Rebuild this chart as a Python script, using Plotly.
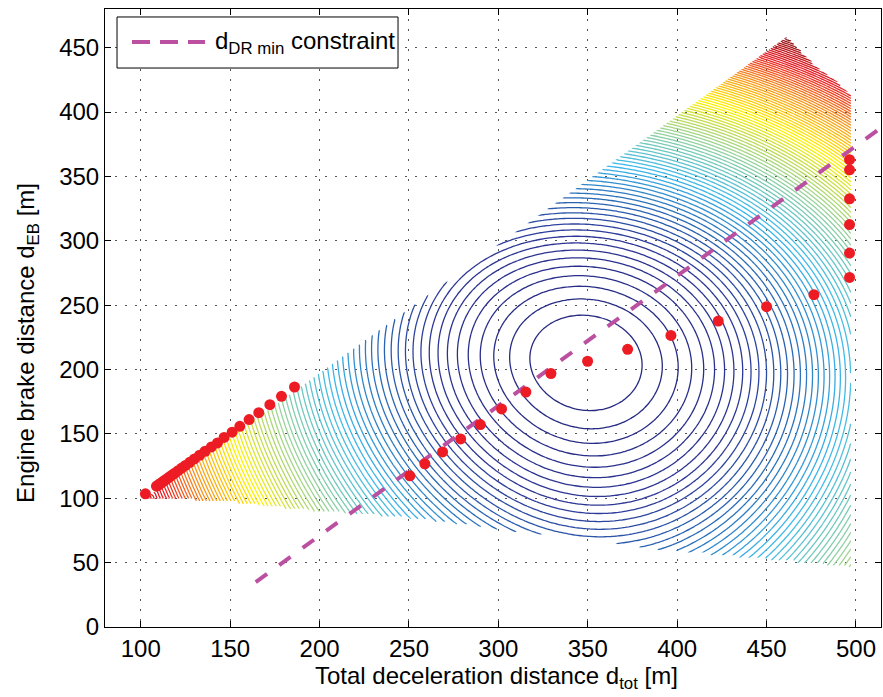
import numpy as np
import plotly.graph_objects as go

# ---------------- values ----------------
x_ticks = [100, 150, 200, 250, 300, 350, 400, 450, 500]
y_ticks = [0, 50, 100, 150, 200, 250, 300, 350, 400, 450]

# cost surface whose level rings are drawn (centre and shape read from the rings)
cost_center_dtot = 349.0
cost_center_deb = 206.0
cost_coef_xx = 1.0
cost_coef_yy = 0.72
cost_coef_xy = 0.12
cost_coef_yyy = 9.0e-4
level_first = 981.0
level_step = 833.0

# feasible region where the surface is defined
region_dtot_min = 103.0
region_dtot_max = 497.0
region_diag_offset = 1.5          # d_EB <= d_tot - offset
region_top_x = [462.0, 476.0, 485.0, 491.0, 497.0]
region_top_y = [458.5, 438.6, 429.6, 422.0, 414.0]
region_low_x = [103.0, 150.0, 190.0, 250.0, 300.0, 350.0, 400.0, 450.0, 497.0]
region_low_y = [100.0, 96.5, 90.5, 84.0, 75.0, 67.0, 58.0, 52.0, 46.0]

# optimal points (red dots)
opt_dtot = [102.6, 108.8, 109.5, 110.3, 111.3, 112.3, 113.4, 114.6, 116.0, 117.5,
            119.1, 120.9, 122.9, 125.0, 127.4, 130.0, 132.9, 136.0, 139.5, 142.9,
            146.6, 151.1, 155.4, 160.6, 166.0, 172.2, 178.7, 186.0,
            250.5, 258.9, 268.8, 278.9, 289.9, 301.8, 315.4, 329.4, 349.9, 372.3,
            396.5, 423.0, 450.0, 476.5, 496.4, 496.4, 496.4, 496.4, 496.4, 496.4]
opt_deb = [103.4, 109.4, 110.0, 110.8, 111.8, 112.8, 113.9, 115.1, 116.5, 118.0,
           119.6, 121.4, 123.4, 125.5, 127.9, 130.5, 133.4, 136.5, 139.9, 143.0,
           147.2, 151.3, 155.9, 161.1, 166.5, 172.7, 179.2, 186.4,
           117.4, 126.7, 136.0, 146.1, 157.2, 169.4, 182.5, 196.9, 206.4, 215.7,
           226.5, 237.6, 248.8, 258.1, 271.5, 290.4, 312.6, 332.6, 355.1, 363.0]

# d_DR,min constraint line
constraint_dtot = [164.3, 520.0]
constraint_deb = [34.9, 393.8]

# ---------------- surface grid ----------------
xg = np.arange(101.0, 499.5, 2.0)
yg = np.arange(40.0, 462.5, 2.0)
X, Y = np.meshgrid(xg, yg)
dx = X - cost_center_dtot
dy = Y - cost_center_deb
Z = cost_coef_xx * dx**2 + cost_coef_yy * dy**2 + cost_coef_xy * dx * dy + cost_coef_yyy * dy**3

low = np.interp(X, region_low_x, region_low_y)
top = np.interp(X, region_top_x, region_top_y, left=1e9, right=-1e9)
inside = ((X >= region_dtot_min) & (X <= region_dtot_max) &
          (Y <= X - region_diag_offset) & (Y >= low) & (Y <= top))
zmax = float(Z[inside].max())
n_levels = int((zmax - level_first) // level_step)
level_last = level_first + n_levels * level_step
Z_list = [[round(float(v), 1) if ok else None for v, ok in zip(zr, mr)]
          for zr, mr in zip(Z, inside)]

# jet-like colour map as it appears in the (printed) reference
jet_print = [
    [0.0, '#262a80'],
    [0.09, '#2e3796'],
    [0.17, '#2a6cb8'],
    [0.26, '#3cb9ec'],
    [0.40, '#98d39c'],
    [0.48, '#c6dc4c'],
    [0.56, '#fff200'],
    [0.72, '#f7941d'],
    [0.86, '#ed1c24'],
    [1.0, '#8a1719'],
]

FONT = "Liberation Sans, Arial, Helvetica, sans-serif"

fig = go.Figure()
fig.add_trace(go.Contour(
    x=xg.tolist(), y=yg.tolist(), z=Z_list,
    autocontour=False,
    contours=dict(coloring='lines', start=level_first, end=level_last, size=level_step),
    colorscale=jet_print, showscale=False,
    line=dict(width=1.3),
    connectgaps=False, hoverinfo='skip', showlegend=False,
))
fig.add_trace(go.Scatter(
    x=constraint_dtot, y=constraint_deb, mode='lines',
    line=dict(color='#bb4fa0', width=4, dash='14px,15px'),
    name='d<sub>DR min</sub> constraint', showlegend=False, hoverinfo='skip',
))
fig.add_trace(go.Scatter(
    x=opt_dtot, y=opt_deb, mode='markers',
    marker=dict(color='#ed1c24', size=11, line=dict(width=0)),
    showlegend=False, hoverinfo='skip',
))

axis_common = dict(
    ticks='inside', ticklen=6, tickwidth=1, tickcolor='black',
    showline=True, linecolor='black', linewidth=1, mirror='ticks',
    showgrid=True, gridcolor='#555555', gridwidth=1, griddash='2px,8px',
    zeroline=False, tickfont=dict(family=FONT, size=24, color='black'),
)
fig.update_xaxes(range=[80, 514], tickvals=x_ticks, **axis_common)
fig.update_yaxes(range=[0, 480], tickvals=y_ticks, **axis_common)

# legend box drawn in the top-left corner
fig.add_shape(type='rect', xref='paper', yref='paper', x0=0.0155, x1=0.3776, y0=0.9045, y1=0.9871,
              line=dict(color='black', width=1), fillcolor='white', layer='above')
fig.add_shape(type='line', xref='paper', yref='paper', x0=0.0348, x1=0.1289, y0=0.9466, y1=0.9466,
              line=dict(color='#bb4fa0', width=4, dash='18px,10px'), layer='above')
fig.add_annotation(text='d<sub>DR min</sub> constraint', xref='paper', yref='paper',
                   x=0.139, y=0.9466, xanchor='left', yanchor='middle', showarrow=False,
                   font=dict(family=FONT, size=24, color='black'))

# axis titles
fig.add_annotation(text='Total deceleration distance d<sub>tot</sub> [m]', xref='paper', yref='paper',
                   x=0.505, y=-0.054, xanchor='center', yanchor='top', showarrow=False,
                   font=dict(family=FONT, size=24, color='black'))
fig.add_annotation(text='Engine brake distance d<sub>EB</sub> [m]', xref='paper', yref='paper',
                   x=-0.099, y=0.46, xanchor='center', yanchor='middle', textangle=-90, showarrow=False,
                   font=dict(family=FONT, size=24, color='black'))

fig.update_layout(
    width=883, height=697,
    margin=dict(l=105, r=2, t=9, b=70),
    paper_bgcolor='white', plot_bgcolor='white',
    showlegend=False,
    font=dict(family=FONT, size=24, color='black'),
)

fig.write_html("out.html")
